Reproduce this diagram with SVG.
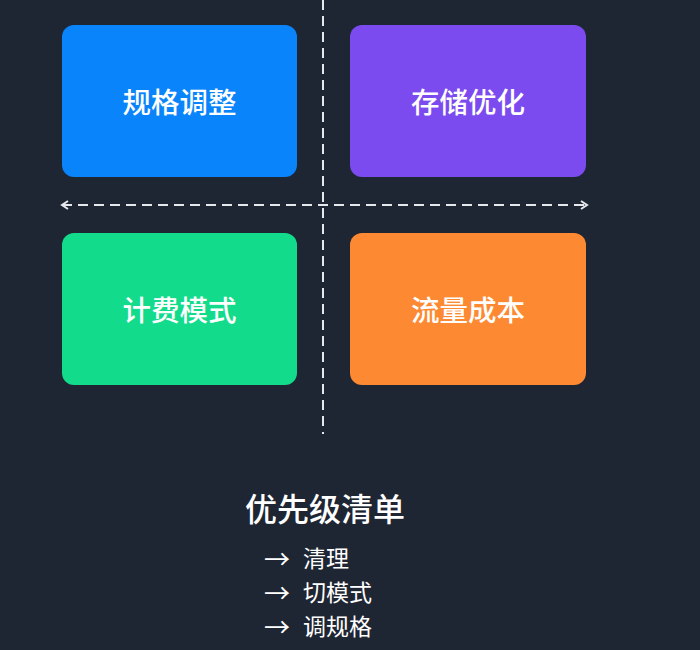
<svg xmlns="http://www.w3.org/2000/svg" width="700" height="650" viewBox="0 0 700 650">
<defs>
<style>
.lbl{font-family:"Noto Sans CJK SC","Noto Sans",sans-serif;font-weight:500;font-size:28.5px;fill:#ffffff;text-anchor:middle;dominant-baseline:central}
.dash{stroke:#e6e8ec;stroke-width:2;fill:none;stroke-dasharray:10 6}
.title{font-family:"Noto Sans CJK SC","Noto Sans",sans-serif;font-weight:500;font-size:32px;fill:#ffffff;dominant-baseline:central}
.item{font-family:"Noto Sans CJK SC","Noto Sans",sans-serif;font-size:23px;fill:#ffffff;dominant-baseline:central}
.arr{font-family:"Noto Sans CJK SC",sans-serif;font-size:26px;fill:#ffffff;dominant-baseline:central}
</style>
<marker id="chev" viewBox="0 0 10 10" refX="8" refY="5" markerWidth="10" markerHeight="10" markerUnits="userSpaceOnUse" orient="auto-start-reverse">
<path d="M2,1 L8,5 L2,9" fill="none" stroke="#e6e8ec" stroke-width="2"/>
</marker>
</defs>
<rect width="700" height="650" fill="#1f2633"/>
<g id="connectors">
<line class="dash" x1="323" y1="0" x2="323" y2="434"/>
<line class="dash" x1="62" y1="205" x2="587" y2="205" marker-start="url(#chev)" marker-end="url(#chev)"/>
</g>
<g id="node-spec">
<rect x="62" y="25" width="235" height="152" rx="12" fill="#0a84fb"/>
<text class="lbl" x="179.500" y="100">规格调整</text>
</g>
<g id="node-storage">
<rect x="350" y="25" width="236" height="152" rx="12" fill="#7b4bef"/>
<text class="lbl" x="468" y="100">存储优化</text>
</g>
<g id="node-billing">
<rect x="62" y="233" width="235" height="152" rx="12" fill="#12dc8b"/>
<text class="lbl" x="179.500" y="308">计费模式</text>
</g>
<g id="node-traffic">
<rect x="350" y="233" width="236" height="152" rx="12" fill="#fd8a32"/>
<text class="lbl" x="468" y="308">流量成本</text>
</g>
<g id="priority-list">
<text class="title" x="245" y="507">优先级清单</text>
<text class="arr" x="264" y="557">→</text>
<text class="item" x="303" y="557">清理</text>
<text class="arr" x="264" y="591">→</text>
<text class="item" x="303" y="591">切模式</text>
<text class="arr" x="264" y="625">→</text>
<text class="item" x="303" y="625">调规格</text>
</g>
</svg>
